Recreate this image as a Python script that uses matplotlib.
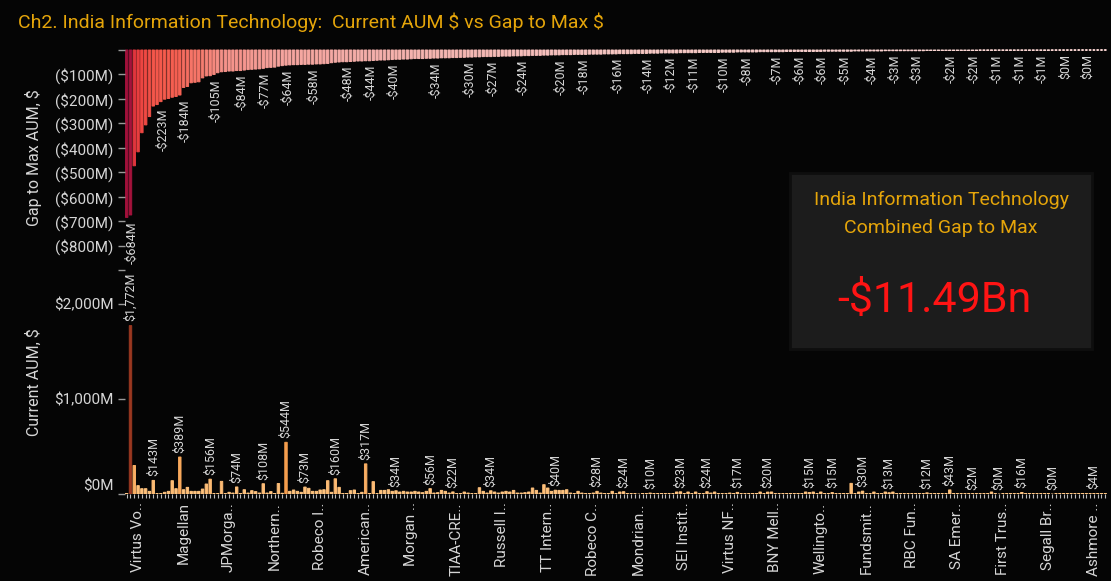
import numpy as np
import matplotlib
matplotlib.use("Agg")
import matplotlib.pyplot as plt
from matplotlib.colors import LinearSegmentedColormap
from matplotlib.patches import Rectangle

# gap to max AUM per fund, $M (sorted, largest gap first)
gap = [
    -684, -674, -473, -416, -338, -306, -272, -229, -223, -211,
    -201, -198, -193, -190, -184, -153, -149, -134, -132, -130,
    -114, -106, -105, -100, -93, -89, -88, -86, -86, -84,
    -84, -82, -80, -79, -78, -77, -75, -72, -71, -70,
    -66, -64, -62, -61, -60, -60, -59, -59, -58, -58,
    -57, -57, -56, -55, -52, -50, -49, -48, -48, -47,
    -46, -45, -45, -44, -44, -43, -42, -41, -41, -40,
    -39, -38, -38, -37, -37, -36, -35, -35, -35, -34,
    -34, -33, -33, -32, -32, -32, -31, -31, -30, -30,
    -29, -29, -28, -28, -27, -27, -27, -26, -26, -25,
    -25, -25, -24, -24, -24, -23, -23, -22, -22, -22,
    -21, -21, -20, -20, -20, -19, -19, -19, -18, -18,
    -18, -18, -17, -17, -17, -17, -16, -16, -16, -16,
    -15, -15, -15, -15, -14, -14, -14, -14, -13, -13,
    -13, -12, -12, -12, -12, -12, -11, -11, -11, -11,
    -11, -10, -10, -10, -10, -10, -10, -9, -9, -9,
    -9, -8, -8, -8, -8, -8, -8, -7, -7, -7,
    -7, -7, -7, -7, -6, -6, -6, -6, -6, -6,
    -6, -6, -6, -6, -5, -5, -5, -5, -5, -5,
    -5, -5, -4, -4, -4, -4, -4, -4, -4, -4,
    -3, -3, -3, -3, -3, -3, -3, -3, -3, -3,
    -3, -2, -2, -2, -2, -2, -2, -2, -2, -2,
    -2, -2, -2, -2, -2, -1, -1, -1, -1, -1,
    -1, -1, -1, -1, -1, -1, -1, -1, -1, -1,
    -1, -1, -1, -1, -0.6, -0.5, -0.4, -0.4, -0.3, -0.3,
    -0.3, -0.2, -0.2, -0.2, -0.1, -0.1, -0.1, -0.1, -0.1,
]

# current AUM per fund, $M (same fund order)
aum = [
    5, 1772, 300, 88, 56, 56, 28, 143, 3, 4,
    18, 28, 140, 56, 389, 45, 70, 28, 28, 28,
    52, 105, 156, 3, 3, 133, 3, 18, 10, 74,
    5, 45, 10, 35, 25, 10, 108, 10, 25, 5,
    110, 8, 544, 28, 42, 28, 18, 73, 60, 28,
    28, 42, 45, 140, 18, 160, 70, 5, 5, 35,
    42, 5, 18, 317, 5, 130, 3, 38, 38, 45,
    28, 34, 21, 28, 21, 21, 28, 21, 14, 28,
    56, 10, 14, 38, 28, 10, 22, 3, 3, 21,
    10, 3, 3, 66, 28, 10, 34, 21, 10, 21,
    28, 21, 38, 10, 10, 14, 21, 63, 38, 10,
    98, 63, 28, 40, 38, 38, 45, 10, 3, 28,
    10, 3, 3, 10, 28, 10, 3, 3, 28, 3,
    21, 24, 3, 3, 3, 0, 3, 3, 10, 3,
    3, 3, 3, 3, 3, 21, 23, 3, 21, 3,
    21, 3, 3, 24, 10, 21, 3, 3, 3, 10,
    3, 17, 3, 3, 3, 3, 5, 21, 3, 20,
    21, 3, 3, 3, 3, 3, 3, 5, 3, 21,
    15, 21, 3, 21, 3, 3, 15, 3, 3, 5,
    3, 112, 3, 21, 30, 3, 3, 21, 3, 3,
    21, 13, 21, 3, 3, 3, 3, 3, 3, 3,
    3, 12, 3, 3, 3, 3, 3, 43, 3, 3,
    3, 3, 3, 2, 3, 3, 3, 3, 21, 3,
    0, 3, 3, 3, 3, 3, 16, 3, 3, 3,
    3, 3, 3, 3, 0, 3, 3, 3, 3, 3,
    3, 3, 3, 3, 3, 4, 3, 3, 3,
]

# fund names shown on the axis (every 12th fund, starting at the 4th)
fund_labels = [
    "Virtus Vo..", "Magellan", "JPMorga..", "Northern..", "Robeco I..",
    "American..", "Morgan ..", "TIAA-CRE..", "Russell I..", "TT Intern..",
    "Robeco C..", "Mondrian..", "SEI Instit..", "Virtus NF..", "BNY Mell..",
    "Wellingto..", "Fundsmit..", "RBC Fun..", "SA Emer..", "First Trus..",
    "Segall Br..", "Ashmore ..",
]
label_start, label_step = 3, 12

# bars carrying a value label
gap_label_idx = [0, 8, 14, 22, 29, 35, 41, 48, 57, 63, 69, 80, 89, 95, 103, 113,
                 119, 128, 136, 142, 148, 156, 162, 170, 176, 182, 188, 195, 201,
                 207, 216, 222, 228, 234, 240, 246, 252]
aum_label_idx = [1, 7, 14, 22, 29, 36, 42, 47, 55, 63, 71, 80, 86, 96, 113, 124,
                 131, 138, 146, 153, 161, 169, 180, 186, 194, 201, 211, 217, 223,
                 230, 236, 244, 255]

total_gap_text = "-$11.49Bn"

BG = "#050505"
GOLD = "#e5a50a"
TXT = "#d6d6d6"

plt.rcParams['font.family'] = ['Roboto', 'DejaVu Sans']

W, H = 1111, 581
fig = plt.figure(figsize=(W / 100, H / 100), dpi=100, facecolor=BG)


def px_axes(x0, y0, x1, y1):
    return fig.add_axes([x0 / W, 1 - y1 / H, (x1 - x0) / W, (y1 - y0) / H])


n = len(gap)
x = np.arange(n)
left = 124.8
right = left + n * 3.793

gap_cmap = LinearSegmentedColormap.from_list("gap", [
    (0.0, "#9e0f3a"), (0.13, "#c4213f"), (0.35, "#e5393d"), (0.57, "#f04a43"),
    (0.71, "#f55b4d"), (0.83, "#f67a6d"), (0.90, "#f5a09a"), (0.957, "#f4b5b1"),
    (1.0, "#f9d4d1")])
aum_cmap = LinearSegmentedColormap.from_list("aum", [
    (0.0, "#ffc581"), (0.31, "#f59c4c"), (1.0, "#9a3820")])

gap_arr = np.array(gap, dtype=float)
aum_arr = np.array(aum, dtype=float)


def fmt_gap(v):
    r = int(round(v))
    return f"-${-r}M" if r < 0 else f"${r}M"


# ---- top panel: gap to max
ax1 = px_axes(left, 44, right, 272)
ax1.set_facecolor(BG)
gcol = gap_cmap((gap_arr + 690) / 690)
ax1.bar(x, gap_arr, width=0.64, color=gcol, edgecolor=gcol, linewidth=0.7, snap=False)
ax1.set_xlim(-0.5, n - 0.5)
ax1.set_ylim(-907, 24.5)
yt = [0, -100, -200, -300, -400, -500, -600, -700, -800, -900]
ax1.set_yticks(yt)
ax1.set_yticklabels([""] + [f"(${-v}M)" for v in yt[1:-1]] + [""])
ax1.set_xticks([])
ax1.tick_params(axis="y", colors="#9a9a9a", labelcolor=TXT, labelsize=11,
                length=5, width=1, pad=3)
for s in ax1.spines.values():
    s.set_visible(False)
for i in gap_label_idx:
    ax1.annotate(fmt_gap(gap[i]), (i, gap[i]), xytext=(4, -3),
                 textcoords="offset points", rotation=90, ha="center", va="top",
                 fontsize=9, color=TXT)

# ---- bottom panel: current AUM
ax2 = px_axes(left, 282, right, 494)
ax2.set_facecolor(BG)
acol = aum_cmap(aum_arr / aum_arr.max())
ax2.bar(x, aum_arr, width=0.64, color=acol, edgecolor=acol, linewidth=0.7, snap=False)
ax2.set_xlim(-0.5, n - 0.5)
ax2.set_ylim(0, 2231)
ax2.set_yticks([0, 1000, 2000])
ax2.set_yticklabels(["$0M", "$1,000M", "$2,000M"])
ax2.get_yticklabels()[0].set_verticalalignment("bottom")
xlabels = [""] * n
for k, name in enumerate(fund_labels):
    xlabels[label_start + k * label_step] = name
ax2.set_xticks(x)
ax2.set_xticklabels(xlabels, rotation=90, fontsize=11, color=TXT)
ax2.tick_params(axis="x", colors="#bdbdbd", labelcolor=TXT, length=3, width=0.8, pad=3)
ax2.tick_params(axis="y", colors="#9a9a9a", labelcolor=TXT, labelsize=11,
                length=5, width=1, pad=3)
for s in ax2.spines.values():
    s.set_visible(False)
for i in aum_label_idx:
    ax2.annotate(f"${aum[i]:,.0f}M", (i, aum[i]), xytext=(0, 3),
                 textcoords="offset points", rotation=90, ha="center", va="bottom",
                 fontsize=9, color=TXT)

# ---- titles
fig.text(18 / W, 1 - 22 / H, r"Ch2. India Information Technology:  Current AUM \$ vs Gap to Max \$",
         color=GOLD, fontsize=14, ha="left", va="center")
fig.text(34 / W, 1 - 158 / H, "Gap to Max AUM, $", rotation=90, color=TXT,
         fontsize=11.5, ha="center", va="center")
fig.text(34 / W, 1 - 382 / H, "Current AUM, $", rotation=90, color=TXT,
         fontsize=11.5, ha="center", va="center")

# ---- summary box
fig.add_artist(Rectangle((790 / W, 1 - 349 / H), 302 / W, 176 / H, transform=fig.transFigure,
                         facecolor="#1c1c1c", edgecolor="#0e0e0e", lw=2))
fig.text(941 / W, 1 - 200 / H, "India Information Technology", color=GOLD,
         fontsize=14, ha="center", va="center")
fig.text(941 / W, 1 - 228 / H, "Combined Gap to Max", color=GOLD,
         fontsize=14, ha="center", va="center")
fig.text(934 / W, 1 - 300 / H, total_gap_text, color="#ff1414",
         fontsize=31, ha="center", va="center")

fig.savefig("out.png", dpi=100, facecolor=BG)
